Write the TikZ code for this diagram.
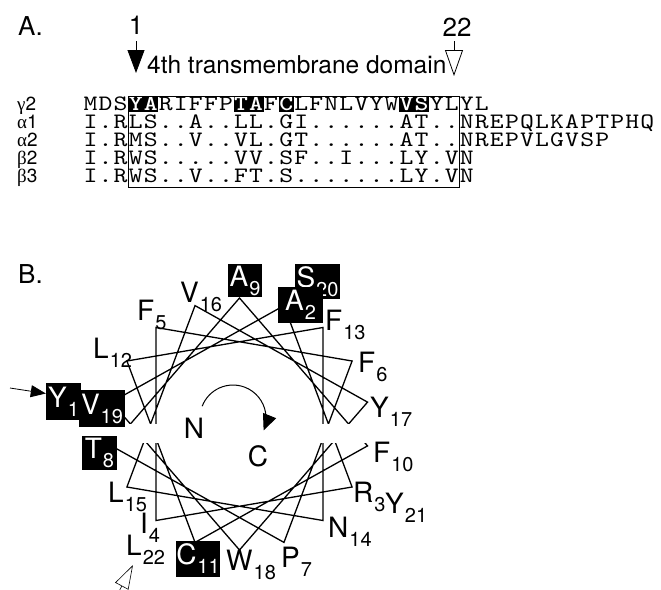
\documentclass[tikz,border=0pt]{standalone}
\usepackage{fontspec}
\setmainfont{TeX Gyre Heros}
\newfontfamily\grkfont{Liberation Serif}
\newfontfamily\seqfont[FakeStretch=1.2, BoldFont=lmmonolt10-bold.otf]{lmmono10-regular.otf}
\usetikzlibrary{arrows.meta}
\tikzset{
	lab/.style={font=\fontsize{26}{26}\selectfont, inner sep=0pt},
	rowlab/.style={lab, font=\fontsize{19}{19}\selectfont, anchor=base west},
	seq/.style={font=\seqfont\fontsize{22}{22}\selectfont, inner sep=0pt, anchor=base,
		text height=13pt, text depth=1pt},
	seqhl/.style={seq, fill=black, text=white, font=\seqfont\bfseries\fontsize{22}{22}\selectfont,
		minimum width=15.05pt, text height=14pt, text depth=1.5pt},
	res/.style={font=\fontsize{28}{28}\selectfont, inner sep=0pt, anchor=base west},
	resbox/.style={res, fill=black, text=white, anchor=center},
	wire/.style={line width=1.3pt},
	thin/.style={line width=0.8pt},
}
\newcommand{\rsub}[2]{#1\kern1pt\raisebox{-9pt}{\fontsize{20}{20}\selectfont #2}}
\begin{document}
\begin{tikzpicture}[x=1pt, y=-1pt, >=latex]
	\useasboundingbox (0,0) rectangle (661,589);
	% A. alignment
	\node[lab, anchor=base west] (pa) at (18,35) {A.};
	\node[lab, anchor=base] (n1) at (136,34) {1};
	\node[lab, anchor=base] (n22) at (457,36) {22};
	\node[lab, font=\fontsize{24.5}{24.5}\selectfont, anchor=base west] (tm) at (147,73) {4th transmembrane domain};
	\coordinate (t1) at (136,73);
	\coordinate (s22) at (454,41);
	\coordinate (t22) at (454,76);
	\draw[thin, -{Triangle[length=23pt,width=17pt]}, shorten <=7pt] (n1.south) -- (t1);
	\draw[thin, -{Triangle[open,length=26pt,width=18pt]}] (s22) -- (t22);
	\foreach \rw/\gk/\nm in {0/γ/2,1/α/1,2/α/2,3/β/2,4/β/3}
		\node[rowlab] (r\rw) at (17,{110.5+18*\rw}) {{\grkfont\gk}\nm};
	\foreach \c/\st [count=\i] in {M/seq,D/seq,S/seq,Y/seqhl,A/seqhl,R/seq,I/seq,F/seq,F/seq,
		P/seq,T/seqhl,A/seqhl,F/seq,C/seqhl,L/seq,F/seq,N/seq,L/seq,V/seq,Y/seq,W/seq,
		V/seqhl,S/seqhl,Y/seq,L/seq,Y/seq,L/seq}
		\node[\st] (s0-\i) at ({75.5+15.05*\i},110.5) {\c};
	\foreach \rw/\aa in {1/{I,.,R,L,S,.,.,A,.,.,L,L,.,G,I,.,.,.,.,.,.,A,T,.,.,N,R,E,P,Q,L,K,A,P,T,P,H,Q},
		2/{I,.,R,M,S,.,.,V,.,.,V,L,.,G,T,.,.,.,.,.,.,A,T,.,.,N,R,E,P,V,L,G,V,S,P},
		3/{I,.,R,W,S,.,.,.,.,.,V,V,.,S,F,.,.,I,.,.,.,L,Y,.,V,N},
		4/{I,.,R,W,S,.,.,V,.,.,F,T,.,S,.,.,.,.,.,.,.,L,Y,.,V,N}}
		\foreach \c [count=\i] in \aa
			\node[seq] (s\rw-\i) at ({75.5+15.05*\i},{110.5+18*\rw}) {\c};
	\draw[thin] (128.2,96) rectangle (459.3,187);
	% B. helical wheel
	\node[lab, anchor=base west] (pb) at (18,283) {B.};
	\begin{scope}[shift={(239.5,424)}, yscale=-1]
		\foreach \i in {1,...,22}
			\coordinate (w\i) at ({170-100*(\i-1)}:130 and 126);
	\end{scope}
	\begin{scope}
		\clip (0,0) rectangle (661,423);
		\draw[wire] (w1) \foreach \i in {2,...,22} {-- (w\i)};
	\end{scope}
	\begin{scope}
		\clip (0,443) rectangle (661,589);
		\draw[wire] (w1) \foreach \i in {2,...,22} {-- (w\i)};
	\end{scope}
	\node[res, anchor=center] (nn) at (194,428) {N};
	\node[res, anchor=center] (cc) at (258,456) {C};
	\draw[line width=1pt, -{Triangle[length=16pt,width=14pt]}] (202.2,406.2) arc[start angle=-159, end angle=22, radius=33];
	\foreach \nm/\l/\s/\x/\y in {l16/V/16/180/302, l5/F/5/137/320, l12/L/12/93/358, l15/L/15/108/502,
		l4/I/4/140/533, l22/L/22/126/555, l18/W/18/226/570, l7/P/7/281/567, l14/N/14/328/537,
		l3/R/3/353/502, l21/Y/21/385/513, l10/F/10/373/462, l17/Y/17/370/417, l6/F/6/358/372,
		l13/F/13/325/330}
		\node[res] (\nm) at (\x,\y) {\rsub{\l}{\s}};
	\node[resbox, minimum width=45pt, minimum height=35pt] (b20) at (317.5,281.5) {\rsub{S}{20}};
	\node[resbox, minimum width=45pt, minimum height=36pt] (b2) at (300.5,305) {\rsub{A}{2}};
	\node[resbox, minimum width=34pt, minimum height=33pt] (b9) at (245,280.5) {\rsub{A}{9}};
	\node[resbox, minimum width=35pt, minimum height=37pt] (b1) at (63.5,401.5) {\rsub{Y}{1}};
	\node[resbox, minimum width=46pt, minimum height=37pt] (b19) at (102,408.5) {\rsub{V}{19}};
	\node[resbox, minimum width=35pt, minimum height=34pt] (b8) at (99.5,453) {\rsub{T}{8}};
	\node[resbox, minimum width=44pt, minimum height=36pt] (b11) at (198,559) {\rsub{C}{11}};
	\coordinate (ya) at (10,388);
	\draw[thin, -{Triangle[length=15pt,width=12pt]}] (ya) -- ([yshift=8pt]b1.west);
	\coordinate (l22a) at (116,597);
	\coordinate (l22t) at (133,565);
	\draw[line width=0.6pt, -{Triangle[open,length=24pt,width=15pt]}] (l22a) -- (l22t);
\end{tikzpicture}
\end{document}
